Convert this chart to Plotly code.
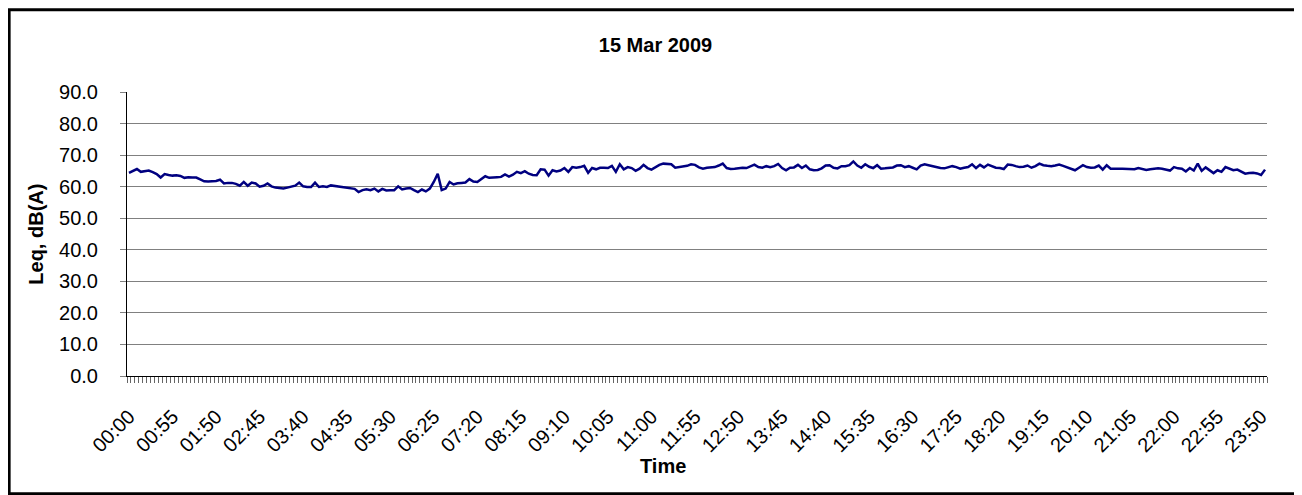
import plotly.graph_objects as go

# 5-minute intervals over the day
times = [f"{h:02d}:{m:02d}" for h in range(24) for m in range(0, 60, 5)]

# Leq values, dB(A), one per 5-minute interval (12 per hour)
leq_00 = [64.4, 65.1, 65.6, 64.7, 64.9, 65.1, 64.6, 64.0, 62.9, 64.0, 63.7, 63.5]
leq_01 = [63.6, 63.4, 62.8, 63.0, 62.9, 62.9, 62.3, 61.7, 61.6, 61.7, 61.8, 62.2]
leq_02 = [61.0, 61.2, 61.2, 60.9, 60.3, 61.5, 60.3, 61.3, 61.0, 60.0, 60.3, 61.0]
leq_03 = [60.1, 59.7, 59.5, 59.4, 59.7, 60.1, 60.3, 61.3, 60.1, 59.9, 59.9, 61.3]
leq_04 = [59.9, 60.1, 59.9, 60.4, 60.2, 60.0, 59.9, 59.5, 59.4, 59.3, 58.3, 58.9]
leq_05 = [59.2, 58.9, 59.4, 58.5, 59.3, 58.8, 58.9, 58.9, 60.1, 59.1, 59.4, 59.6]
leq_06 = [58.9, 58.3, 59.1, 58.5, 59.4, 61.5, 64.1, 58.9, 59.4, 61.5, 60.7, 61.1]
leq_07 = [61.2, 61.3, 62.4, 61.6, 61.5, 62.3, 63.3, 62.8, 62.8, 63.0, 63.1, 63.9]
leq_08 = [63.2, 63.8, 64.7, 64.3, 64.9, 64.1, 63.7, 63.6, 65.5, 65.4, 63.5, 65.2]
leq_09 = [64.8, 65.1, 65.9, 64.7, 66.2, 66.0, 66.2, 66.6, 64.4, 65.9, 65.5, 66.0]
leq_10 = [66.0, 65.9, 66.6, 64.7, 67.1, 65.5, 66.2, 65.9, 65.0, 65.7, 66.9, 65.9]
leq_11 = [65.4, 66.2, 66.9, 67.3, 67.2, 67.1, 66.0, 66.2, 66.2, 66.6, 67.1, 66.9]
leq_12 = [66.1, 65.7, 66.0, 66.0, 66.2, 66.7, 67.3, 65.9, 65.6, 65.7, 65.9, 66.0]
leq_13 = [65.9, 66.5, 67.0, 66.2, 66.0, 66.5, 66.2, 66.5, 67.2, 65.9, 65.2, 66.0]
leq_14 = [66.1, 66.9, 65.9, 66.7, 65.5, 65.2, 65.3, 65.8, 66.7, 66.8, 66.0, 65.8]
leq_15 = [66.5, 66.5, 66.8, 68.0, 66.7, 66.0, 67.1, 66.3, 65.9, 66.8, 65.7, 65.8]
leq_16 = [65.9, 66.1, 66.7, 66.8, 66.2, 66.5, 66.0, 65.5, 66.7, 67.1, 66.8, 66.5]
leq_17 = [66.1, 65.9, 65.8, 66.2, 66.5, 66.2, 65.7, 66.0, 66.2, 67.1, 65.9, 66.9]
leq_18 = [66.1, 67.0, 66.6, 66.0, 65.9, 65.6, 67.0, 66.9, 66.5, 66.2, 66.3, 66.7]
leq_19 = [66.0, 66.5, 67.3, 66.8, 66.6, 66.5, 66.7, 67.0, 66.6, 66.1, 65.8, 65.2]
leq_20 = [66.0, 66.8, 66.2, 66.0, 66.1, 66.7, 65.4, 66.8, 65.7, 65.8, 65.7, 65.7]
leq_21 = [65.6, 65.4, 65.5, 65.9, 65.5, 65.3, 65.5, 65.7, 65.8, 65.7, 65.4, 65.1]
leq_22 = [66.2, 65.8, 65.7, 64.8, 65.9, 65.1, 67.3, 65.0, 66.1, 65.2, 64.3, 65.2]
leq_23 = [64.7, 66.2, 65.8, 65.2, 65.4, 64.8, 64.1, 64.3, 64.4, 64.2, 63.7, 65.4]

leq = (leq_00 + leq_01 + leq_02 + leq_03 + leq_04 + leq_05 + leq_06 + leq_07
       + leq_08 + leq_09 + leq_10 + leq_11 + leq_12 + leq_13 + leq_14 + leq_15
       + leq_16 + leq_17 + leq_18 + leq_19 + leq_20 + leq_21 + leq_22 + leq_23)

y_ticks = [0, 10, 20, 30, 40, 50, 60, 70, 80, 90]
label_step = 11

idx = list(range(len(times)))
tick_idx = idx[::label_step]
tick_text = [times[i] for i in tick_idx]

FONT = "Liberation Sans, Arial, sans-serif"

fig = go.Figure()
fig.add_trace(go.Scatter(
    x=idx, y=leq, mode="lines",
    line=dict(color="#000080", width=2.5),
    hoverinfo="y", showlegend=False,
))

fig.update_layout(
    width=1294, height=487,
    margin=dict(l=119, r=35, t=84, b=119),
    paper_bgcolor="white", plot_bgcolor="white",
    font=dict(family=FONT, color="black", size=20),
    title=dict(text="<b>15 Mar 2009</b>", x=0.5004, xref="container",
               xanchor="center", y=0.924, yref="container", yanchor="middle",
               font=dict(size=20, family=FONT)),
    shapes=[dict(type="rect", xref="paper", yref="paper",
                 x0=-0.1034, x1=1.0275, y0=-0.4148, y1=1.2894,
                 line=dict(color="black", width=3), fillcolor="rgba(0,0,0,0)",
                 layer="below")],
    annotations=[
        dict(text="<b>Leq, dB(A)</b>", xref="paper", yref="paper",
             x=-0.0801, y=0.5, textangle=-90, showarrow=False,
             xanchor="center", yanchor="middle", font=dict(size=20)),
        dict(text="<b>Time</b>", xref="paper", yref="paper",
             x=0.4706, y=-0.318, showarrow=False,
             xanchor="center", yanchor="middle", font=dict(size=20)),
    ],
)

fig.update_xaxes(
    range=[-0.5, len(times) - 0.5],
    tickmode="array", tickvals=tick_idx, ticktext=tick_text,
    tickangle=-45, ticks="", showgrid=False,
    showline=True, linecolor="black", linewidth=1,
    tickfont=dict(size=20), ticklabelstandoff=20,
    minor=dict(ticks="outside", ticklen=6, tickcolor="#666666",
               tickmode="linear", tick0=0.5, dtick=1, showgrid=False),
    zeroline=False,
)
fig.update_yaxes(
    range=[0, 90], tickmode="array", tickvals=y_ticks,
    tickformat=".1f", ticks="outside", ticklen=6, tickcolor="#808080",
    showgrid=True, gridcolor="#808080", gridwidth=1,
    showline=True, linecolor="black", linewidth=1,
    tickfont=dict(size=20), ticklabelstandoff=18,
    zeroline=False,
)

fig.write_html("out.html")
